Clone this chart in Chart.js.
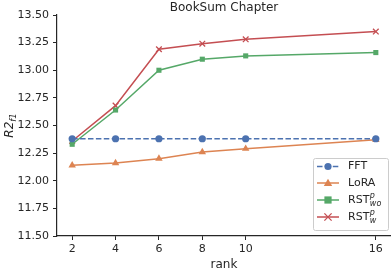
<!DOCTYPE html>
<html><head><meta charset="utf-8">
<script src="https://cdn.jsdelivr.net/npm/chart.js@4"></script>
<style>html,body{margin:0;padding:0;background:#fff}#wrap{width:391px;height:272px;position:relative}</style>
</head><body><div id="wrap"><canvas id="c" width="391" height="272"></canvas></div>
<script>
const ranks = [2, 4, 6, 8, 10, 16];
const fft = [12.38, 12.38, 12.38, 12.38, 12.38, 12.38];
const lora = [12.14, 12.16, 12.20, 12.26, 12.29, 12.37];
const rstWo = [12.33, 12.64, 13.00, 13.10, 13.13, 13.16];
const rstW = [12.36, 12.68, 13.19, 13.24, 13.28, 13.35];
const yTicks = [11.5, 11.75, 12.0, 12.25, 12.5, 12.75, 13.0, 13.25, 13.5];
const titleText = 'BookSum Chapter';
const xTitle = 'rank';

const TXT = '#262626';
const FONT = 'DejaVu Sans';
const C = {blue:'#4C72B0', orange:'#DD8452', green:'#55A868', red:'#C44E52'};

const pts = arr => ranks.map((r,i)=>({x:r,y:arr[i]}));
const legendItems = [
  {base:'FFT', sup:'', sub:'', color:C.blue, style:'circle', dash:[5.5,2.4]},
  {base:'LoRA', sup:'', sub:'', color:C.orange, style:'triangle', dash:[]},
  {base:'RST', sup:'p', sub:'wo', color:C.green, style:'rect', dash:[]},
  {base:'RST', sup:'p', sub:'w', color:C.red, style:'crossRot', dash:[]}
];

function drawMarker(ctx, style, x, y, color){
  ctx.save();
  ctx.fillStyle = color; ctx.strokeStyle = color; ctx.setLineDash([]);
  if(style==='circle'){ctx.beginPath();ctx.arc(x,y,3.6,0,Math.PI*2);ctx.fill();}
  else if(style==='triangle'){ctx.beginPath();ctx.moveTo(x,y-4.2);ctx.lineTo(x+4.2,y+3);ctx.lineTo(x-4.2,y+3);ctx.closePath();ctx.fill();}
  else if(style==='rect'){ctx.fillRect(x-3.6,y-3.6,7.2,7.2);}
  else {ctx.lineWidth=1.3;ctx.beginPath();ctx.moveTo(x-3.6,y-3.6);ctx.lineTo(x+3.6,y+3.6);ctx.moveTo(x+3.6,y-3.6);ctx.lineTo(x-3.6,y+3.6);ctx.stroke();}
  ctx.restore();
}

const deco = {
  id:'deco',
  afterDraw(chart){
    const ctx = chart.ctx, a = chart.chartArea;
    ctx.save();
    ctx.fillStyle = TXT;
    ctx.font = '12px "'+FONT+'"';
    ctx.textAlign='center'; ctx.textBaseline='middle';
    ctx.fillText(titleText, (a.left+a.right)/2, 7.5);
    ctx.save();
    ctx.translate(13, (a.top+a.bottom)/2);
    ctx.rotate(-Math.PI/2);
    ctx.textAlign='left'; ctx.textBaseline='alphabetic';
    ctx.font = 'italic 12px "'+FONT+'"';
    const w1 = ctx.measureText('R2').width;
    ctx.font = 'italic 8.5px "'+FONT+'"';
    const w2 = ctx.measureText('f1').width;
    const start = -(w1+w2)/2;
    ctx.font = 'italic 12px "'+FONT+'"';
    ctx.fillText('R2', start, 0);
    ctx.font = 'italic 8.5px "'+FONT+'"';
    ctx.fillText('f1', start+w1, 2.5);
    ctx.restore();
    const lx=313, ly=158, lw=75, lh=72;
    ctx.beginPath();
    if(ctx.roundRect){ctx.roundRect(lx+0.5,ly+0.5,lw,lh,2);}else{ctx.rect(lx+0.5,ly+0.5,lw,lh);}
    ctx.fillStyle='rgba(255,255,255,0.8)'; ctx.fill();
    ctx.strokeStyle='#cccccc'; ctx.lineWidth=1; ctx.stroke();
    const rows=[166.5,183,200,217];
    legendItems.forEach((it,i)=>{
      const y=rows[i];
      ctx.save();
      ctx.strokeStyle=it.color; ctx.lineWidth=1.5; ctx.setLineDash(it.dash);
      ctx.beginPath(); ctx.moveTo(317,y); ctx.lineTo(339,y); ctx.stroke();
      ctx.restore();
      drawMarker(ctx,it.style,328,y,it.color);
      ctx.fillStyle=TXT; ctx.textAlign='left'; ctx.textBaseline='middle';
      ctx.font='11px "'+FONT+'"';
      ctx.fillText(it.base,348,y);
      const bw=ctx.measureText(it.base).width;
      if(it.sup){
        ctx.font='italic 8px "'+FONT+'"';
        ctx.fillText(it.sup,348+bw+0.5,y-4.5);
        ctx.fillText(it.sub,348+bw+0.5,y+3.5);
      }
    });
    ctx.restore();
  }
};

const ds = (label,data,color,style,dash)=>({
  label, data:pts(data), borderColor:color, backgroundColor:color,
  borderWidth:1.5, borderDash:dash, pointStyle:style,
  pointRadius: style==='triangle'?4.3:(style==='crossRot'?4:3.6),
  pointHoverRadius:4, pointBorderWidth: style==='crossRot'?1.3:0, pointBorderColor:color,
  tension:0, fill:false, clip:false
});

new Chart(document.getElementById('c'),{
  type:'line',
  data:{datasets:[
    ds('FFT',fft,C.blue,'circle',[5.5,2.4]),
    ds('LoRA',lora,C.orange,'triangle',[]),
    ds('RST_wo^p',rstWo,C.green,'rect',[]),
    ds('RST_w^p',rstW,C.red,'crossRot',[])
  ]},
  options:{
    responsive:false, animation:false, devicePixelRatio:1,
    layout:{autoPadding:false,padding:{top:15,right:0,left:0,bottom:0}},
    plugins:{legend:{display:false},tooltip:{enabled:false},title:{display:false}},
    scales:{
      x:{type:'linear',min:1.3,max:16.7,
        afterBuildTicks(s){s.ticks=ranks.map(v=>({value:v}));},
        afterFit(s){s.height=36;},
        ticks:{color:TXT,font:{family:FONT,size:11},padding:3,maxRotation:0,autoSkip:false,callback:v=>String(v)},
        grid:{display:true,drawOnChartArea:false,drawTicks:true,tickLength:4,color:TXT,tickWidth:1},
        border:{display:true,color:TXT,width:1.2},
        title:{display:true,text:xTitle,color:TXT,font:{family:FONT,size:12},padding:{top:0,bottom:0}}
      },
      y:{type:'linear',min:11.5,max:13.5,
        afterBuildTicks(s){s.ticks=yTicks.map(v=>({value:v}));},
        afterFit(s){s.width=57;},
        ticks:{color:TXT,font:{family:FONT,size:11},padding:4,callback:v=>v.toFixed(2)},
        grid:{display:true,drawOnChartArea:false,drawTicks:true,tickLength:4,color:TXT,tickWidth:1},
        border:{display:true,color:TXT,width:1.2}
      }
    }
  },
  plugins:[deco]
});
</script></body></html>
